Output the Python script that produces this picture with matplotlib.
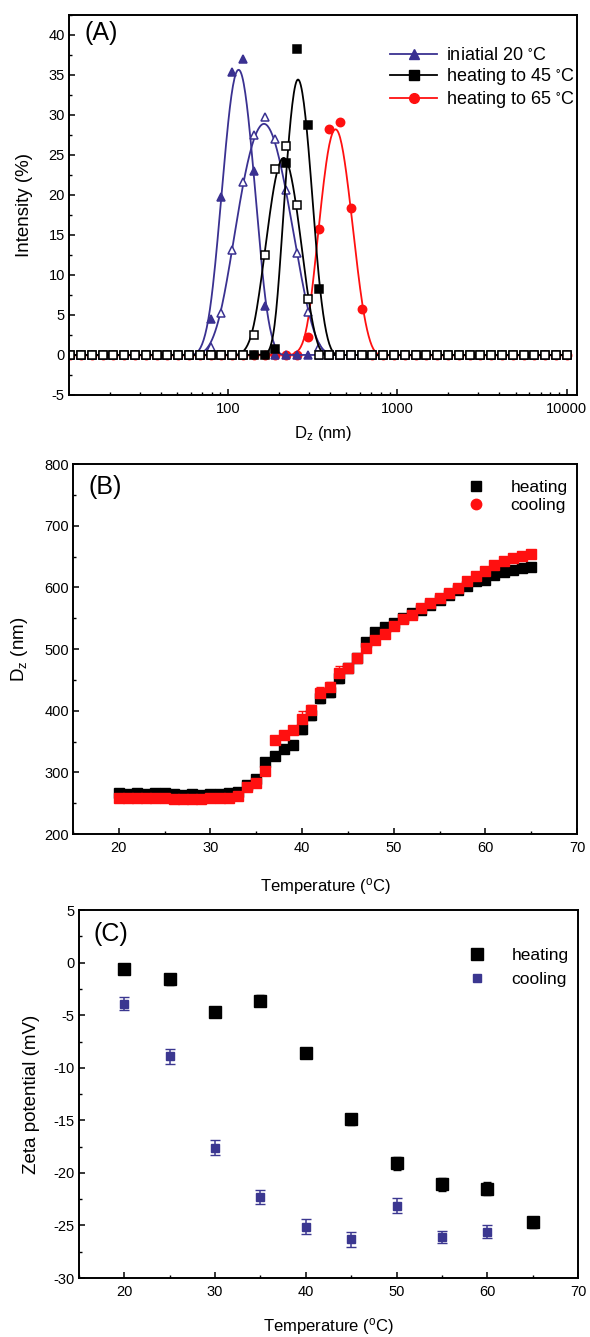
import matplotlib
matplotlib.use('Agg')
import matplotlib.pyplot as plt
from matplotlib.lines import Line2D
from matplotlib.ticker import MultipleLocator, LogLocator, NullFormatter
import numpy as np

plt.rcParams.update({
    'font.family': ['Liberation Sans', 'DejaVu Sans'],
    'mathtext.default': 'regular',
    'axes.unicode_minus': False,
    'font.size': 10,
    'axes.linewidth': 1.4,
    'xtick.direction': 'in',
    'ytick.direction': 'in',
    'xtick.major.size': 4.5,
    'ytick.major.size': 4.5,
    'xtick.minor.size': 2.5,
    'ytick.minor.size': 2.5,
    'xtick.major.width': 1.1,
    'ytick.major.width': 1.1,
    'xtick.minor.width': 1.0,
    'ytick.minor.width': 1.0,
    'xtick.major.pad': 5,
    'ytick.major.pad': 3,
    'xtick.labelsize': 10.5,
    'ytick.labelsize': 10.5,
})

BLUE = '#3a3191'
RED = '#ff1010'
NAVY = '#3b3790'

# --- (A) DLS size distributions -------------------------------------------
D_BINS = [11.7, 13.54, 15.69, 18.17, 21.04, 24.36, 28.21, 32.67, 37.84, 43.82,
          50.75, 58.77, 68.06, 78.82, 91.28, 105.7, 122.4, 141.8, 164.2, 190.1,
          220.2, 255.0, 295.3, 342.0, 396.1, 458.7, 531.2, 615.1, 712.4, 825.0,
          955.4, 1106, 1281, 1484, 1718, 1990, 2305, 2669, 3091, 3580, 4145,
          4801, 5560, 6439, 7456, 8635, 10000]

# non-zero part of each distribution (everything else sits at 0)
INIT20_D = [78.82, 91.28, 105.7, 122.4, 141.8, 164.2]
INIT20_I = [4.5, 19.7, 35.4, 37.0, 23.0, 6.1]
INIT20_OPEN_D = [78.82, 91.28, 105.7, 122.4, 141.8, 164.2, 190.1, 220.2, 255.0, 295.3, 342.0]
INIT20_OPEN_I = [1.0, 5.2, 13.1, 21.6, 27.5, 29.7, 27.0, 20.6, 12.8, 5.4, 1.0]
HEAT45_D = [190.1, 220.2, 255.0, 295.3, 342.0]
HEAT45_I = [0.8, 24.0, 38.3, 28.7, 8.2]
HEAT45_OPEN_D = [141.8, 164.2, 190.1, 220.2, 255.0, 295.3]
HEAT45_OPEN_I = [2.5, 12.5, 23.2, 26.1, 18.7, 7.0]
HEAT65_D = [295.3, 342.0, 396.1, 458.7, 531.2, 615.1]
HEAT65_I = [2.3, 15.8, 28.2, 29.1, 18.4, 5.8]

# --- (B) Dz vs temperature -------------------------------------------------
T_B = list(range(20, 66))
DZ_HEAT = [266, 265, 266, 265, 267, 266, 265, 264, 265, 264, 265, 265, 266, 268,
           279, 289, 316, 327, 338, 344, 371, 393, 420, 431, 453, 469, 485, 512,
           527, 535, 543, 551, 559, 564, 572, 580, 588, 595, 602, 610, 612, 620,
           625, 628, 631, 633]
DZ_HEAT_ERR = [4, 4, 4, 4, 4, 4, 4, 4, 4, 4, 4, 4, 4, 4, 5, 5, 6, 6, 6, 6, 8, 8,
               8, 8, 8, 6, 6, 6, 6, 5, 5, 5, 5, 5, 5, 5, 5, 5, 5, 5, 5, 5, 5, 5, 5, 5]
DZ_COOL = [258, 259, 259, 258, 259, 258, 257, 256, 257, 257, 258, 258, 259, 262,
           276, 283, 303, 352, 360, 368, 387, 401, 428, 439, 461, 470, 486, 502,
           515, 525, 538, 548, 556, 567, 575, 583, 591, 599, 610, 618, 626, 636,
           642, 647, 651, 654]
DZ_COOL_ERR = [4, 4, 4, 4, 4, 4, 4, 4, 4, 4, 4, 4, 4, 4, 5, 5, 6, 6, 6, 6, 12, 8,
               10, 8, 12, 6, 6, 6, 6, 5, 5, 5, 5, 5, 5, 5, 5, 5, 5, 5, 5, 5, 5, 5, 5, 5]

# --- (C) zeta potential ----------------------------------------------------
T_HEAT_C = [20, 25, 30, 35, 40, 45, 50, 55, 60, 65]
ZETA_HEAT = [-0.6, -1.6, -4.7, -3.6, -8.6, -14.9, -19.1, -21.1, -21.5, -24.7]
ZETA_HEAT_ERR = [0.5, 0.5, 0.5, 0.5, 0.5, 0.5, 0.6, 0.6, 0.6, 0.5]
T_COOL_C = [20, 25, 30, 35, 40, 45, 50, 55, 60]
ZETA_COOL = [-3.9, -8.9, -17.6, -22.3, -25.1, -26.3, -23.1, -26.1, -25.6]
ZETA_COOL_ERR = [0.6, 0.7, 0.7, 0.7, 0.7, 0.7, 0.7, 0.6, 0.6]


def full_dist(peak_d, peak_i):
    vals = dict(zip(peak_d, peak_i))
    return np.array(D_BINS, float), np.array([vals.get(d, 0.0) for d in D_BINS])


def bspline(x, y, steps=14):
    # Origin-style cubic B-spline using the points as control points (log x)
    p = np.column_stack([np.log10(x), y])
    p = np.vstack([p[0], p[0], p, p[-1], p[-1]])
    t = np.linspace(0, 1, steps, endpoint=False)[:, None]
    b0 = (1 - t) ** 3 / 6
    b1 = (3 * t ** 3 - 6 * t ** 2 + 4) / 6
    b2 = (-3 * t ** 3 + 3 * t ** 2 + 3 * t + 1) / 6
    b3 = t ** 3 / 6
    segs = [b0 * p[i] + b1 * p[i + 1] + b2 * p[i + 2] + b3 * p[i + 3]
            for i in range(len(p) - 3)]
    c = np.vstack(segs + [p[-1:]])
    return 10 ** c[:, 0], c[:, 1]


fig = plt.figure(figsize=(5.9, 13.37), dpi=100)

# ============================ (A) ==========================================
ax = fig.add_axes([0.117, 0.7046, 0.861, 0.2842])
series = [
    (HEAT65_D, HEAT65_I, RED, 'o', RED),
    (INIT20_D, INIT20_I, BLUE, '^', BLUE),
    (INIT20_OPEN_D, INIT20_OPEN_I, BLUE, '^', 'white'),
    (HEAT45_D, HEAT45_I, 'black', 's', 'black'),
    (HEAT45_OPEN_D, HEAT45_OPEN_I, 'black', 's', 'white'),
]
for pd, pi, col, mk, fc in series:
    x, y = full_dist(pd, pi)
    sx, sy = bspline(x, y)
    ax.plot(sx, sy, color=col, lw=1.3)
    ax.plot(x, y, ls='none', marker=mk, ms=6, mfc=fc, mec=col, mew=1.1)

ax.set_xscale('log')
ax.set_xlim(11.5, 11500)
ax.set_ylim(-5, 42.5)
ax.xaxis.set_minor_locator(LogLocator(base=10, subs=np.arange(2, 10), numticks=20))
ax.xaxis.set_minor_formatter(NullFormatter())
ax.set_xticks([100, 1000, 10000], ['100', '1000', '10000'])
ax.yaxis.set_major_locator(MultipleLocator(5))
ax.yaxis.set_minor_locator(MultipleLocator(2.5))
ax.set_ylabel('Intensity (%)', fontsize=13.5)
ax.yaxis.set_label_coords(-0.071, 0.5)
ax.set_xlabel('D$_z$ (nm)', fontsize=12)
ax.xaxis.set_label_coords(0.5, -0.076)
ax.text(0.03, 0.952, '(A)', transform=ax.transAxes, fontsize=18, va='center')
handles = [
    Line2D([], [], color=BLUE, marker='^', ms=7, lw=1.3),
    Line2D([], [], color='black', marker='s', ms=7, lw=1.3),
    Line2D([], [], color=RED, marker='o', ms=7, lw=1.3),
]
ax.legend(handles, ['iniatial 20 $^{\\circ}$C', 'heating to 45 $^{\\circ}$C',
                    'heating to 65 $^{\\circ}$C'],
          loc='upper right', bbox_to_anchor=(1.01, 0.935), frameon=False,
          fontsize=13, handlelength=2.6, borderaxespad=0.0,
          labelspacing=0.12, handletextpad=0.5)

# ============================ (B) ==========================================
ax = fig.add_axes([0.1237, 0.3762, 0.8542, 0.2767])
ax.errorbar(T_B, DZ_HEAT, yerr=DZ_HEAT_ERR, fmt='s', color='black', ms=7,
            elinewidth=1, capsize=3)
ax.errorbar(T_B, DZ_COOL, yerr=DZ_COOL_ERR, fmt='s', color=RED, ms=7,
            elinewidth=1, capsize=3)
ax.set_xlim(15, 70)
ax.set_ylim(200, 800)
ax.xaxis.set_major_locator(MultipleLocator(10))
ax.xaxis.set_minor_locator(MultipleLocator(5))
ax.yaxis.set_major_locator(MultipleLocator(100))
ax.yaxis.set_minor_locator(MultipleLocator(50))
ax.set_ylabel('D$_z$ (nm)', fontsize=13.5)
ax.yaxis.set_label_coords(-0.085, 0.5)
ax.set_xlabel('Temperature ($^{o}$C)', fontsize=12)
ax.xaxis.set_label_coords(0.5, -0.114)
ax.text(0.03, 0.937, '(B)', transform=ax.transAxes, fontsize=18, va='center')
handles = [Line2D([], [], color='black', marker='s', ms=7.5, ls='none'),
           Line2D([], [], color=RED, marker='o', ms=7.5, ls='none')]
ax.legend(handles, ['heating', 'cooling'], loc='upper right',
          bbox_to_anchor=(0.995, 0.975), frameon=False, fontsize=12.5,
          borderaxespad=0.0, labelspacing=0.15, handletextpad=1.0)

# ============================ (C) ==========================================
ax = fig.add_axes([0.1339, 0.0441, 0.8458, 0.2752])
ax.errorbar(T_HEAT_C, ZETA_HEAT, yerr=ZETA_HEAT_ERR, fmt='s', color='black',
            ms=8, elinewidth=1, capsize=3)
ax.errorbar(T_COOL_C, ZETA_COOL, yerr=ZETA_COOL_ERR, fmt='s', color=NAVY,
            ms=6, elinewidth=1.1, capsize=3.5)
ax.set_xlim(15, 70)
ax.set_ylim(-30, 5)
ax.xaxis.set_major_locator(MultipleLocator(10))
ax.xaxis.set_minor_locator(MultipleLocator(5))
ax.yaxis.set_major_locator(MultipleLocator(5))
ax.yaxis.set_minor_locator(MultipleLocator(2.5))
ax.set_ylabel('Zeta potential (mV)', fontsize=13.5)
ax.yaxis.set_label_coords(-0.078, 0.5)
ax.set_xlabel('Temperature ($^{o}$C)', fontsize=12)
ax.xaxis.set_label_coords(0.5, -0.104)
ax.text(0.03, 0.935, '(C)', transform=ax.transAxes, fontsize=18, va='center')
handles = [Line2D([], [], color='black', marker='s', ms=8, ls='none'),
           Line2D([], [], color=NAVY, marker='s', ms=5.5, ls='none')]
ax.legend(handles, ['heating', 'cooling'], loc='upper right',
          bbox_to_anchor=(0.995, 0.915), frameon=False, fontsize=12.5,
          borderaxespad=0.0, labelspacing=0.5, handletextpad=1.0)

fig.savefig('out.png', dpi=100)
